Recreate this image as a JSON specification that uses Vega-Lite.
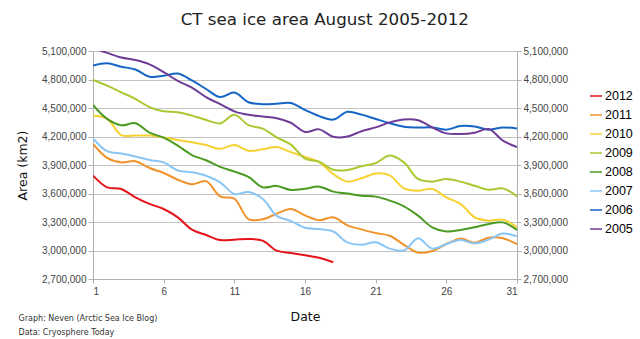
{
  "$schema": "https://vega.github.io/schema/vega-lite/v6.json",
  "padding": {"left": 16, "top": 12, "right": 0, "bottom": 0},
  "background": "white",
  "config": {"view": {"stroke": null}, "font": "DejaVu Sans"},
  "title": {"text": "CT sea ice area August 2005-2012", "font": "DejaVu Sans", "fontSize": 16.7, "fontWeight": "normal", "color": "#222", "anchor": "middle", "frame": "bounds", "offset": 17},
  "datasets": {
    "ice": [
      {"day": 1, "2012": 3788000, "2011": 4121000, "2010": 4420000, "2009": 4795000, "2008": 4532000, "2007": 4180000, "2006": 4946000, "2005": 5130000},
      {"day": 2, "2012": 3665000, "2011": 3975000, "2010": 4385000, "2009": 4735000, "2008": 4385000, "2007": 4045000, "2006": 4972000, "2005": 5080000},
      {"day": 3, "2012": 3647000, "2011": 3928000, "2010": 4215000, "2009": 4665000, "2008": 4318000, "2007": 4020000, "2006": 4935000, "2005": 5032000},
      {"day": 4, "2012": 3560000, "2011": 3940000, "2010": 4210000, "2009": 4595000, "2008": 4340000, "2007": 3990000, "2006": 4905000, "2005": 5005000},
      {"day": 5, "2012": 3490000, "2011": 3868000, "2010": 4210000, "2009": 4510000, "2008": 4240000, "2007": 3953000, "2006": 4830000, "2005": 4960000},
      {"day": 6, "2012": 3437000, "2011": 3816000, "2010": 4190000, "2009": 4465000, "2008": 4188000, "2007": 3928000, "2006": 4840000, "2005": 4878000},
      {"day": 7, "2012": 3349000, "2011": 3745000, "2010": 4163000, "2009": 4455000, "2008": 4104000, "2007": 3842000, "2006": 4862000, "2005": 4785000},
      {"day": 8, "2012": 3219000, "2011": 3697000, "2010": 4140000, "2009": 4420000, "2008": 4005000, "2007": 3823000, "2006": 4790000, "2005": 4715000},
      {"day": 9, "2012": 3163000, "2011": 3730000, "2010": 4110000, "2009": 4374000, "2008": 3950000, "2007": 3787000, "2006": 4700000, "2005": 4615000},
      {"day": 10, "2012": 3110000, "2011": 3570000, "2010": 4070000, "2009": 4338000, "2008": 3880000, "2007": 3717000, "2006": 4615000, "2005": 4540000},
      {"day": 11, "2012": 3114000, "2011": 3545000, "2010": 4110000, "2009": 4428000, "2008": 3830000, "2007": 3595000, "2006": 4662000, "2005": 4465000},
      {"day": 12, "2012": 3121000, "2011": 3330000, "2010": 4050000, "2009": 4320000, "2008": 3775000, "2007": 3615000, "2006": 4560000, "2005": 4428000},
      {"day": 13, "2012": 3104000, "2011": 3328000, "2010": 4065000, "2009": 4283000, "2008": 3665000, "2007": 3545000, "2006": 4540000, "2005": 4410000},
      {"day": 14, "2012": 2998000, "2011": 3388000, "2010": 4090000, "2009": 4190000, "2008": 3680000, "2007": 3365000, "2006": 4545000, "2005": 4393000},
      {"day": 15, "2012": 2974000, "2011": 3437000, "2010": 4035000, "2009": 4115000, "2008": 3637000, "2007": 3310000, "2006": 4552000, "2005": 4345000},
      {"day": 16, "2012": 2950000, "2011": 3370000, "2010": 3985000, "2009": 3968000, "2008": 3650000, "2007": 3240000, "2006": 4480000, "2005": 4248000},
      {"day": 17, "2012": 2924000, "2011": 3318000, "2010": 3930000, "2009": 3935000, "2008": 3672000, "2007": 3226000, "2006": 4415000, "2005": 4275000},
      {"day": 18, "2012": 2876000, "2011": 3349000, "2010": 3805000, "2009": 3850000, "2008": 3620000, "2007": 3200000, "2006": 4378000, "2005": 4197000},
      {"day": 19, "2011": 3265000, "2010": 3725000, "2009": 3848000, "2008": 3600000, "2007": 3086000, "2006": 4460000, "2005": 4200000},
      {"day": 20, "2011": 3222000, "2010": 3760000, "2009": 3886000, "2008": 3577000, "2007": 3061000, "2006": 4430000, "2005": 4255000},
      {"day": 21, "2011": 3184000, "2010": 3810000, "2009": 3920000, "2008": 3567000, "2007": 3086000, "2006": 4385000, "2005": 4296000},
      {"day": 22, "2011": 3155000, "2010": 3790000, "2009": 4000000, "2008": 3525000, "2007": 3020000, "2006": 4340000, "2005": 4349000},
      {"day": 23, "2011": 3060000, "2010": 3654000, "2009": 3928000, "2008": 3465000, "2007": 3000000, "2006": 4303000, "2005": 4380000},
      {"day": 24, "2011": 2978000, "2010": 3630000, "2009": 3753000, "2008": 3367000, "2007": 3128000, "2006": 4295000, "2005": 4372000},
      {"day": 25, "2011": 2995000, "2010": 3647000, "2009": 3725000, "2008": 3244000, "2007": 3020000, "2006": 4295000, "2005": 4296000},
      {"day": 26, "2011": 3068000, "2010": 3560000, "2009": 3753000, "2008": 3200000, "2007": 3068000, "2006": 4272000, "2005": 4233000},
      {"day": 27, "2011": 3125000, "2010": 3490000, "2009": 3725000, "2008": 3216000, "2007": 3110000, "2006": 4310000, "2005": 4226000},
      {"day": 28, "2011": 3082000, "2010": 3350000, "2009": 3682000, "2008": 3244000, "2007": 3075000, "2006": 4305000, "2005": 4240000},
      {"day": 29, "2011": 3135000, "2010": 3314000, "2009": 3640000, "2008": 3280000, "2007": 3114000, "2006": 4272000, "2005": 4279000},
      {"day": 30, "2011": 3128000, "2010": 3325000, "2009": 3654000, "2008": 3296000, "2007": 3178000, "2006": 4295000, "2005": 4156000},
      {"day": 31, "2011": 3068000, "2010": 3244000, "2009": 3570000, "2008": 3216000, "2007": 3150000, "2006": 4285000, "2005": 4090000}
    ]
  },
  "vconcat": [
    {
      "width": 424,
      "height": 228,
      "title": {"text": ["Graph: Neven (Arctic Sea Ice Blog)", "Data: Cryosphere Today"], "orient": "bottom", "anchor": "start", "frame": "bounds", "font": "DejaVu Sans", "fontSize": 8, "fontWeight": "normal", "color": "#333", "lineHeight": 14, "offset": -8, "dx": 2},
      "data": {"name": "ice"},
      "transform": [
        {"fold": ["2012", "2011", "2010", "2009", "2008", "2007", "2006", "2005"], "as": ["year", "area"]},
        {"filter": "isValid(datum.area)"}
      ],
      "encoding": {
        "x": {"field": "day", "type": "quantitative", "scale": {"domain": [1, 31], "nice": false, "zero": false},
          "axis": {"values": [1, 6, 11, 16, 21, 26, 31], "grid": false, "domainColor": "#b0b0b0", "tickColor": "#b0b0b0", "tickSize": 4, "labelFont": "Liberation Sans", "labelFontSize": 10, "labelColor": "#444", "labelPadding": 3, "title": "Date", "titleFont": "DejaVu Sans", "titleFontSize": 12.5, "titleFontWeight": "normal", "titleColor": "#111", "titlePadding": 14}}
      },
      "layer": [
        {
          "mark": {"type": "line", "interpolate": "catmull-rom", "strokeWidth": 2, "clip": true},
          "encoding": {
            "y": {"field": "area", "type": "quantitative", "scale": {"domain": [2700000, 5100000], "nice": false, "zero": false},
              "axis": {"orient": "left", "values": [2700000, 3000000, 3300000, 3600000, 3900000, 4200000, 4500000, 4800000, 5100000], "format": ",d", "grid": true, "gridColor": "#c4c4c4", "domainColor": "#b0b0b0", "tickColor": "#b0b0b0", "tickSize": 5, "labelFont": "Liberation Sans", "labelFontSize": 10, "labelColor": "#444", "labelPadding": 2, "title": "Area (km2)", "titleFont": "DejaVu Sans", "titleFontSize": 12.5, "titleFontWeight": "normal", "titleColor": "#111", "titlePadding": 12}},
            "color": {"field": "year", "type": "nominal",
              "scale": {"domain": ["2012", "2011", "2010", "2009", "2008", "2007", "2006", "2005"], "range": ["#e4141b", "#f0932b", "#f5d231", "#a8c931", "#4b9a22", "#8ac6f5", "#1565c6", "#6e3b96"]},
              "legend": {"orient": "none", "legendX": 496, "legendY": 38, "title": null, "symbolType": "stroke", "symbolSize": 144, "symbolStrokeWidth": 1.5, "labelFont": "Liberation Sans", "labelFontSize": 12.5, "labelColor": "#000", "labelOffset": 2, "rowPadding": 5, "padding": 0}}
          }
        },
        {
          "mark": {"type": "line", "interpolate": "catmull-rom", "opacity": 0, "clip": true},
          "encoding": {
            "y": {"field": "area", "type": "quantitative", "scale": {"domain": [2700000, 5100000], "nice": false, "zero": false},
              "axis": {"orient": "right", "values": [2700000, 3000000, 3300000, 3600000, 3900000, 4200000, 4500000, 4800000, 5100000], "format": ",d", "grid": false, "domainColor": "#b0b0b0", "tickColor": "#b0b0b0", "tickSize": 4, "labelFont": "Liberation Sans", "labelFontSize": 10, "labelColor": "#444", "labelPadding": 2, "title": null}},
            "detail": {"field": "year", "type": "nominal"}
          }
        }
      ],
      "resolve": {"axis": {"y": "independent"}}
    }
  ]
}
